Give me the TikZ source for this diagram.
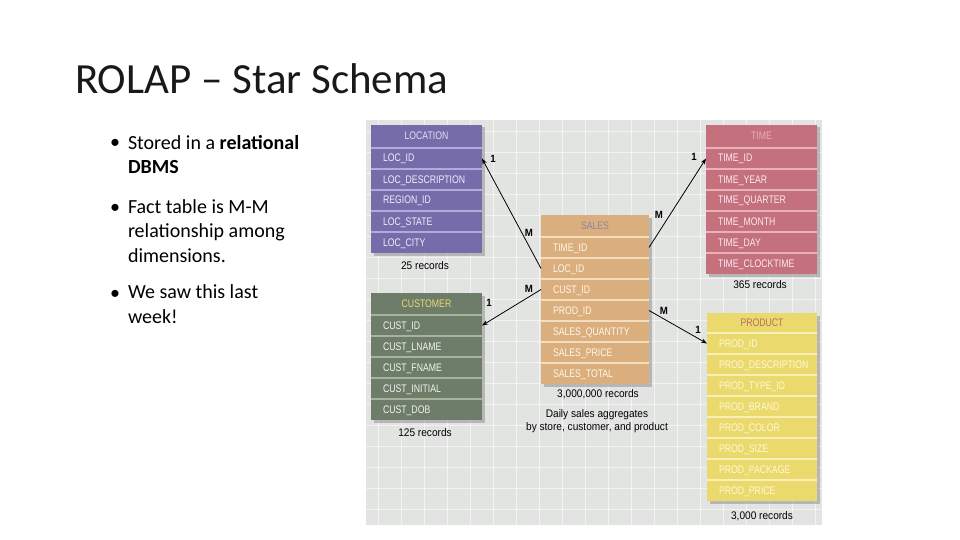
\documentclass[tikz,border=0pt]{standalone}
\usepackage{fontspec}
\setmainfont{Carlito}
\newfontfamily\tabfont[FakeStretch=0.79]{Liberation Sans}
\newfontfamily\recfont[FakeStretch=0.92]{Liberation Sans}
\usetikzlibrary{arrows.meta,shadows}
\definecolor{panelbg}{HTML}{E2E4E2}
\definecolor{loccol}{HTML}{766CAA}\definecolor{lochd}{HTML}{E4E0F4}\definecolor{loctx}{HTML}{F0EEFA}\definecolor{locsep}{HTML}{B2AADA}
\definecolor{timcol}{HTML}{C4707D}\definecolor{timhd}{HTML}{E6B0B8}\definecolor{timtx}{HTML}{FCEAEE}\definecolor{timsep}{HTML}{E8B2BA}
\definecolor{cuscol}{HTML}{6E7D69}\definecolor{cushd}{HTML}{E6DA72}\definecolor{custx}{HTML}{F2F4EE}\definecolor{cussep}{HTML}{A6B49E}
\definecolor{salcol}{HTML}{DAAF7D}\definecolor{salhd}{HTML}{8C84A8}\definecolor{saltx}{HTML}{FFF6E8}\definecolor{salsep}{HTML}{F4DDBC}
\definecolor{procol}{HTML}{EADA6E}\definecolor{prohd}{HTML}{B86E5C}\definecolor{protx}{HTML}{FFF8D4}\definecolor{prosep}{HTML}{F8F0B4}
\newcommand\dbtable[7]{% name, x, ytop, width, header height, header, rows
  \node[tabhdr, minimum width=#4pt, text width=#4pt, minimum height=#5pt] (#1-0) at (#2,#3) {#6};
  \foreach \r [count=\i, evaluate=\i as \j using int(\i-1)] in {#7} {
    \node[tabrow, minimum width=#4pt, text width=#4pt] (#1-\i) at (#1-\j.south west) {\hspace*{12pt}\r};
    \draw[tabsep] (#1-\i.north west) -- (#1-\i.north east);
  }
}
\begin{document}
\begin{tikzpicture}[x=1pt,y=-1pt,
  every node/.style={inner sep=0pt, outer sep=0pt},
  tabhdr/.style={anchor=north west, fill=tc, text=ht, align=center,
    font=\tabfont\fontsize{11}{12}\selectfont, text height=8pt, text depth=1pt,
    drop shadow={opacity=0.45, shadow xshift=2.5pt, shadow yshift=-2.5pt}},
  tabrow/.style={anchor=north west, fill=tc, text=rt, align=left, minimum height=21pt,
    font=\tabfont\fontsize{11}{12}\selectfont, text height=8pt, text depth=1pt,
    drop shadow={opacity=0.45, shadow xshift=2.5pt, shadow yshift=-2.5pt}},
  tabsep/.style={draw=sc, line width=1.6pt},
  rec/.style={font=\recfont\fontsize{11}{12.5}\selectfont, text=black, align=center},
  card/.style={font=\recfont\bfseries\fontsize{10.5}{12}\selectfont, text=black},
  conn/.style={draw=black, line width=0.8pt, -{Stealth[length=6pt,width=4.5pt]}},
  gridln/.style={draw=white, line width=0.8pt, opacity=0.55},
  bul/.style={anchor=base west, font=\fontsize{20}{24.5}\selectfont, align=left}
]
\useasboundingbox (0,0) rectangle (960,540);
% title and bullets
\node[anchor=base west, font=\fontsize{43}{52}\selectfont, text=black!90] (title) at (75,94) {ROLAP – Star Schema};
\node[bul] (d1) at (110,149) {•};
\node[bul] (b1) at (128,174) {Stored in a \textbf{relational}\\\textbf{DBMS}};
\node[bul] (d2) at (110,213) {•};
\node[bul] (b2) at (128,262) {Fact table is M-M\\relationship among\\dimensions.};
\node[bul] (d3) at (110,299) {•};
\node[bul] (b3) at (128,323) {We saw this last\\week!};
% panel
\fill[panelbg] (366,120) rectangle (822,525);
\foreach \gx in {378,401,424,447,470,493,516,539,562,585,608,631,654,677,700,723,746,769,792,815} {\draw[gridln] (\gx,120) -- (\gx,525);}
\foreach \gy in {131,152,173,194,215,236,257,278,299,320,341,362,383,404,425,446,467,488,509} {\draw[gridln] (366,\gy) -- (822,\gy);}
% tables
\begin{scope}
\colorlet{tc}{loccol}\colorlet{ht}{lochd}\colorlet{rt}{loctx}\colorlet{sc}{locsep}
\dbtable{loc}{371}{125}{111}{23}{LOCATION}{LOC\_ID,LOC\_DESCRIPTION,REGION\_ID,LOC\_STATE,LOC\_CITY}
\end{scope}
\begin{scope}
\colorlet{tc}{timcol}\colorlet{ht}{timhd}\colorlet{rt}{timtx}\colorlet{sc}{timsep}
\dbtable{tim}{706}{125}{111}{23}{TIME}{TIME\_ID,TIME\_YEAR,TIME\_QUARTER,TIME\_MONTH,TIME\_DAY,TIME\_CLOCKTIME}
\end{scope}
\begin{scope}
\colorlet{tc}{cuscol}\colorlet{ht}{cushd}\colorlet{rt}{custx}\colorlet{sc}{cussep}
\dbtable{cus}{371}{293}{111}{22}{CUSTOMER}{CUST\_ID,CUST\_LNAME,CUST\_FNAME,CUST\_INITIAL,CUST\_DOB}
\end{scope}
\begin{scope}
\colorlet{tc}{salcol}\colorlet{ht}{salhd}\colorlet{rt}{saltx}\colorlet{sc}{salsep}
\dbtable{sal}{541}{215}{108}{22}{SALES}{TIME\_ID,LOC\_ID,CUST\_ID,PROD\_ID,SALES\_QUANTITY,SALES\_PRICE,SALES\_TOTAL}
\end{scope}
\begin{scope}
\colorlet{tc}{procol}\colorlet{ht}{prohd}\colorlet{rt}{protx}\colorlet{sc}{prosep}
\dbtable{pro}{707}{313}{110}{20}{PRODUCT}{PROD\_ID,PROD\_DESCRIPTION,PROD\_TYPE\_ID,PROD\_BRAND,PROD\_COLOR,PROD\_SIZE,PROD\_PACKAGE,PROD\_PRICE}
\end{scope}
% record counts
\node[rec] (locrec) at (425,266) {25 records};
\node[rec] (timrec) at (760,285) {365 records};
\node[rec] (cusrec) at (425,433) {125 records};
\node[rec] (salrec) at (598,394) {3,000,000 records};
\node[rec] (salnote) at (597,421) {Daily sales aggregates\\by store, customer, and product};
\node[rec] (prorec) at (762,516) {3,000 records};
% connectors
\draw[conn] (sal-2.west) -- (loc-1.east);
\draw[conn] (sal-1.east) -- (tim-1.west);
\draw[conn] (sal-3.west) -- (cus-1.east);
\draw[conn] (sal-4.east) -- (pro-1.west);
% cardinalities
\node[card] (c1) at (493,159) {1};
\node[card] (c2) at (529,233) {M};
\node[card] (c3) at (694,157) {1};
\node[card] (c4) at (659,215) {M};
\node[card] (c5) at (489,303) {1};
\node[card] (c6) at (529,289) {M};
\node[card] (c7) at (664,311) {M};
\node[card] (c8) at (698,330) {1};
\end{tikzpicture}
\end{document}
